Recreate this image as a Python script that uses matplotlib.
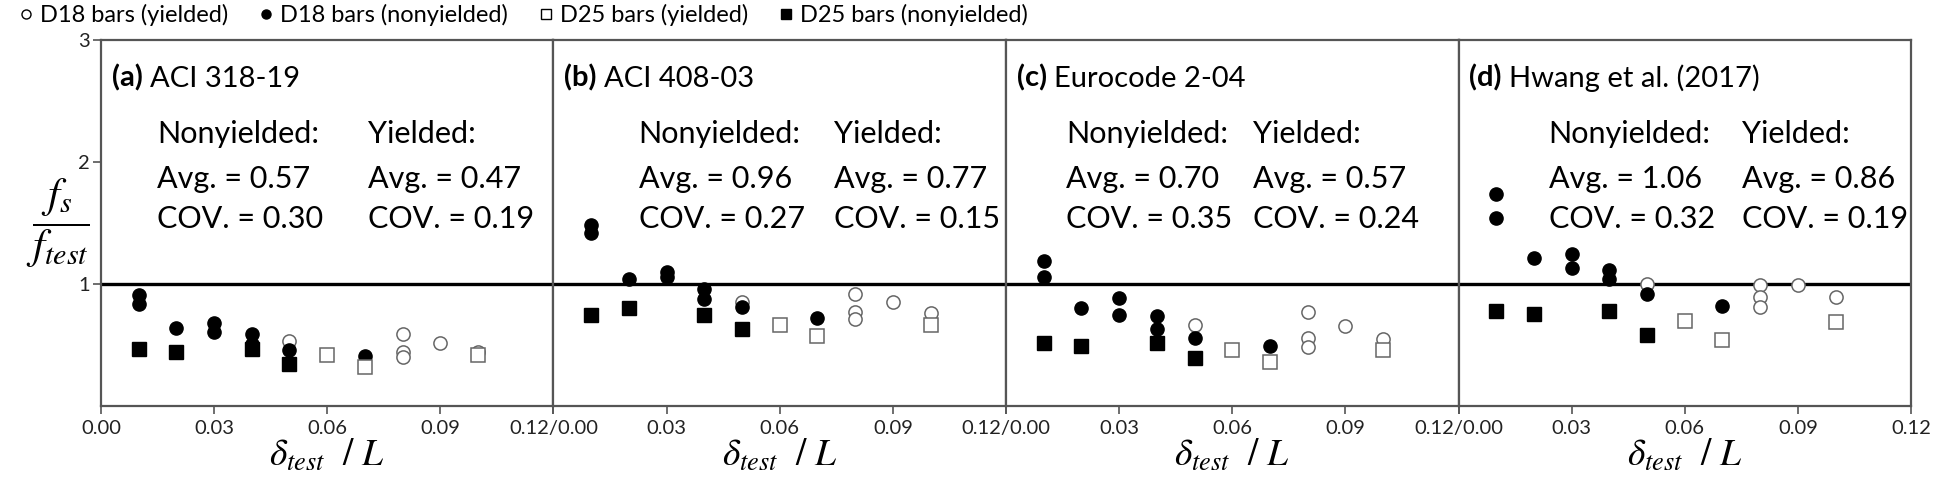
import matplotlib
matplotlib.use('Agg')
import matplotlib.pyplot as plt
from matplotlib.lines import Line2D

plt.rcParams['font.family'] = ['Lato', 'DejaVu Sans']
plt.rcParams['mathtext.fontset'] = 'stix'

# ---------------- data ----------------
panel_tags = ['(a)', '(b)', '(c)', '(d)']
panel_titles = ['ACI 318-19', 'ACI 408-03', 'Eurocode 2-04', 'Hwang et al. (2017)']
nonyielded_avg = ['0.57', '0.96', '0.70', '1.06']
nonyielded_cov = ['0.30', '0.27', '0.35', '0.32']
yielded_avg = ['0.47', '0.77', '0.57', '0.86']
yielded_cov = ['0.19', '0.15', '0.24', '0.19']

# drift ratio (delta_test / L) of each specimen group
d18_yielded_x = [0.05, 0.08, 0.08, 0.08, 0.09, 0.10]
d18_nonyielded_x = [0.01, 0.01, 0.02, 0.03, 0.03, 0.04, 0.04, 0.05, 0.07]
d25_yielded_x = [0.06, 0.07, 0.10]
d25_nonyielded_x = [0.01, 0.02, 0.04, 0.05]

# f_s / f_test for each panel
d18_yielded_y = [
    [0.53, 0.59, 0.445, 0.40, 0.52, 0.445],
    [0.855, 0.915, 0.77, 0.71, 0.85, 0.76],
    [0.66, 0.77, 0.555, 0.485, 0.655, 0.55],
    [1.00, 0.99, 0.895, 0.81, 0.99, 0.895],
]
d18_nonyielded_y = [
    [0.91, 0.84, 0.64, 0.68, 0.61, 0.59, 0.51, 0.46, 0.41],
    [1.48, 1.415, 1.04, 1.10, 1.06, 0.955, 0.875, 0.815, 0.725],
    [1.19, 1.06, 0.80, 0.885, 0.745, 0.74, 0.63, 0.555, 0.495],
    [1.74, 1.54, 1.21, 1.245, 1.135, 1.115, 1.04, 0.92, 0.82],
]
d25_yielded_y = [
    [0.415, 0.32, 0.415],
    [0.665, 0.575, 0.665],
    [0.46, 0.36, 0.46],
    [0.70, 0.54, 0.69],
]
d25_nonyielded_y = [
    [0.47, 0.445, 0.47, 0.345],
    [0.745, 0.80, 0.745, 0.63],
    [0.515, 0.495, 0.515, 0.39],
    [0.78, 0.755, 0.775, 0.585],
]

xticks = [0.00, 0.03, 0.06, 0.09, 0.12]
yticks = [1, 2, 3]
legend_labels = ['D18 bars (yielded)', 'D18 bars (nonyielded)',
                 'D25 bars (yielded)', 'D25 bars (nonyielded)']

# ---------------- figure ----------------
fig = plt.figure(figsize=(19.37, 4.98), dpi=100)
axes = fig.subplots(1, 4, sharey=True, gridspec_kw=dict(wspace=0))
fig.subplots_adjust(left=0.0521, right=0.9866, bottom=0.1847, top=0.9197)

spine_col = '#555555'
open_col = '#666666'
ms = 9.5
fs_stat = 22

nonx = [0.124, 0.188, 0.133, 0.199]
yldx = [0.59, 0.62, 0.545, 0.626]

for i, ax in enumerate(axes):
    ax.set_xlim(0, 0.12)
    ax.set_ylim(0, 3)
    ax.axhline(1, color='black', lw=2.4, zorder=1)
    ax.plot(d18_yielded_x, d18_yielded_y[i], 'o', ms=ms, mfc='white', mec=open_col, mew=1.1, zorder=3)
    ax.plot(d18_nonyielded_x, d18_nonyielded_y[i], 'o', ms=ms, mfc='black', mec='black', zorder=3)
    ax.plot(d25_yielded_x, d25_yielded_y[i], 's', ms=ms, mfc='white', mec=open_col, mew=1.1, zorder=3)
    ax.plot(d25_nonyielded_x, d25_nonyielded_y[i], 's', ms=ms, mfc='black', mec='black', zorder=3)

    for s in ax.spines.values():
        s.set_color(spine_col)
        s.set_linewidth(1.6)

    ax.set_xticks(xticks)
    labels = ['%.2f' % t for t in xticks]
    if i > 0:
        labels[0] = ''
    if i < 3:
        labels[-1] = '0.12/0.00'
    ax.set_xticklabels(labels, fontsize=14.5, color='#222222')
    ax.tick_params(axis='x', length=6, width=1.2, color=spine_col, pad=4)
    if i == 0:
        ax.set_yticks(yticks)
        ax.set_yticklabels([str(t) for t in yticks], fontsize=14.5, color='#222222')
        ax.tick_params(axis='y', length=6, width=1.2, color=spine_col, pad=2)
    else:
        ax.tick_params(axis='y', left=False, labelleft=False)

    ax.set_xlabel(r'$\delta_{test}\ \ /\ L$', fontsize=27, labelpad=0)

    tag = ax.text(0.024, 0.872, panel_tags[i], transform=ax.transAxes,
                  fontsize=21, fontweight='bold', va='baseline', ha='left')
    ax.annotate(panel_titles[i], xy=(1, 0), xycoords=tag, xytext=(5, 0),
                textcoords='offset points', fontsize=21, va='bottom', ha='left')

    ax.text(nonx[i], 0.719, 'Nonyielded:', transform=ax.transAxes, fontsize=fs_stat, va='baseline')
    ax.text(nonx[i], 0.596, 'Avg. = ' + nonyielded_avg[i], transform=ax.transAxes, fontsize=fs_stat, va='baseline')
    ax.text(nonx[i], 0.486, 'COV. = ' + nonyielded_cov[i], transform=ax.transAxes, fontsize=fs_stat, va='baseline')
    ax.text(yldx[i], 0.719, 'Yielded:', transform=ax.transAxes, fontsize=fs_stat, va='baseline')
    ax.text(yldx[i], 0.596, 'Avg. = ' + yielded_avg[i], transform=ax.transAxes, fontsize=fs_stat, va='baseline')
    ax.text(yldx[i], 0.486, 'COV. = ' + yielded_cov[i], transform=ax.transAxes, fontsize=fs_stat, va='baseline')

fig.text(0.030, 0.552, r'$\dfrac{f_s}{f_{test}}$', fontsize=31, ha='center', va='center')

handles = [
    Line2D([], [], ls='none', marker='o', ms=6.5, mfc='white', mec='black', mew=1),
    Line2D([], [], ls='none', marker='o', ms=6.5, mfc='black', mec='black'),
    Line2D([], [], ls='none', marker='s', ms=6.5, mfc='white', mec='black', mew=1),
    Line2D([], [], ls='none', marker='s', ms=6.5, mfc='black', mec='black'),
]
fig.legend(handles, legend_labels, loc='upper left', bbox_to_anchor=(0.0, 1.02), ncol=4,
           frameon=False, fontsize=17, handletextpad=0.1, columnspacing=1.1,
           handlelength=1.0, borderaxespad=0.2)

fig.savefig('out.png', dpi=100)
